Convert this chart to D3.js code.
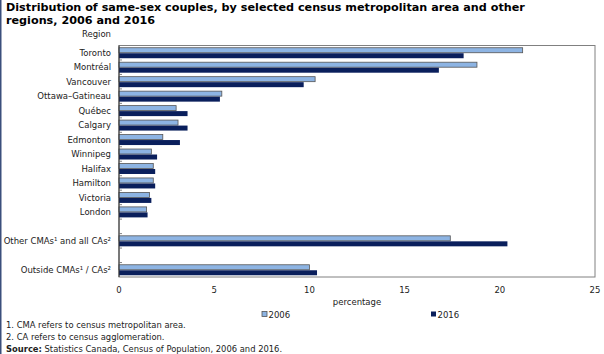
<!DOCTYPE html>
<html>
<head>
<meta charset="utf-8">
<script src="https://cdn.jsdelivr.net/npm/d3@7"></script>
<style>
  body { margin: 0; background: #fff; }
  svg { font-family: "DejaVu Sans", Verdana, sans-serif; }
</style>
</head>
<body>
<div id="chart"></div>
<script>
// data
const regions = ["Toronto", "Montréal", "Vancouver", "Ottawa–Gatineau", "Québec", "Calgary",
    "Edmonton", "Winnipeg", "Halifax", "Hamilton", "Victoria", "London",
    "Other CMAs¹ and all CAs²", "Outside CMAs¹ / CAs²"];
const values2006 = [21.2, 18.8, 10.3, 5.4, 3.0, 3.1, 2.3, 1.7, 1.8, 1.8, 1.6, 1.45, 17.4, 10.0];
const values2016 = [18.1, 16.8, 9.7, 5.3, 3.6, 3.6, 3.2, 2.0, 1.9, 1.9, 1.7, 1.5, 20.4, 10.4];
const years = ["2006", "2016"];
const xTicks = [0, 5, 10, 15, 20, 25];
const footnotes = ["1. CMA refers to census metropolitan area.", "2. CA refers to census agglomeration."];

const colors = { "2006": "#8db4e3", "2016": "#0a1f5c" };

const width = 604, height = 354;
const plot = { left: 119, right: 595, top: 45.5, bottom: 277 };
const labelSize = "8.5px";

// row slots, with empty rows before the two aggregate groups
const slots = [];
regions.forEach((r, i) => {
    if (i >= 12) slots.push("__gap" + i);
    slots.push(r);
});

const data = regions.map((r, i) => ({ region: r, "2006": values2006[i], "2016": values2016[i] }));

const svg = d3.select("#chart").append("svg")
    .attr("width", width)
    .attr("height", height);

// left edge rule of the frame
svg.append("line")
    .attr("x1", 0.75).attr("x2", 0.75)
    .attr("y1", 0).attr("y2", height)
    .attr("stroke", "#3b4f7c").attr("stroke-width", 1.5);

// title
svg.append("text")
    .attr("x", 6).attr("y", 11)
    .attr("font-size", "11.2px").attr("font-weight", "bold").attr("fill", "#000")
    .text("Distribution  of same-sex couples, by selected census metropolitan  area and other");
svg.append("text")
    .attr("x", 6).attr("y", 23.5)
    .attr("font-size", "11.2px").attr("font-weight", "bold").attr("fill", "#000")
    .text("regions, 2006  and 2016");

const x = d3.scaleLinear()
    .domain([0, 25])
    .range([plot.left, plot.right]);

const y = d3.scaleBand()
    .domain(slots)
    .range([plot.top, plot.bottom])
    .paddingInner(0.24)
    .paddingOuter(0.12);

const ySub = d3.scaleBand()
    .domain(years)
    .range([0, y.bandwidth()]);

// plot frame
svg.append("rect")
    .attr("x", plot.left).attr("y", plot.top)
    .attr("width", plot.right - plot.left).attr("height", plot.bottom - plot.top)
    .attr("fill", "none").attr("stroke", "#808080").attr("stroke-width", 1);

// bars
const rows = svg.selectAll(".row")
    .data(data)
    .enter()
    .append("g")
    .attr("class", "row")
    .attr("transform", d => `translate(0,${y(d.region)})`);

rows.selectAll("rect")
    .data(d => years.map(k => ({ key: k, value: d[k] })))
    .enter()
    .append("rect")
    .attr("x", x(0))
    .attr("y", d => ySub(d.key) + 0.5)
    .attr("width", d => x(d.value) - x(0))
    .attr("height", ySub.bandwidth() - 0.5)
    .attr("fill", d => colors[d.key])
    .attr("stroke", d => d.key === "2006" ? "#555" : "none")
    .attr("stroke-width", 0.8);

// left axis line with small inner ticks at row boundaries
svg.append("line")
    .attr("x1", plot.left).attr("x2", plot.left)
    .attr("y1", plot.top).attr("y2", plot.bottom)
    .attr("stroke", "#333").attr("stroke-width", 1);

const step = y.step();
svg.selectAll(".ytick")
    .data(d3.range(1, slots.length))
    .enter()
    .append("line")
    .attr("x1", plot.left).attr("x2", plot.left + 3)
    .attr("y1", i => plot.top + i * step)
    .attr("y2", i => plot.top + i * step)
    .attr("stroke", "#666").attr("stroke-width", 0.8);

// category labels
svg.selectAll(".ylabel")
    .data(regions)
    .enter()
    .append("text")
    .attr("x", 111)
    .attr("y", d => y(d) + y.bandwidth() / 2 + 3.1)
    .attr("text-anchor", "end")
    .attr("font-size", labelSize)
    .attr("fill", "#222")
    .text(d => d);

svg.append("text")
    .attr("x", 111).attr("y", 37)
    .attr("text-anchor", "end")
    .attr("font-size", labelSize).attr("fill", "#222")
    .text("Region");

// x tick labels
svg.selectAll(".xlabel")
    .data(xTicks)
    .enter()
    .append("text")
    .attr("x", d => x(d))
    .attr("y", 293)
    .attr("text-anchor", "middle")
    .attr("font-size", labelSize)
    .attr("fill", "#222")
    .text(d => d);

svg.append("text")
    .attr("x", (plot.left + plot.right) / 2).attr("y", 305)
    .attr("text-anchor", "middle")
    .attr("font-size", labelSize).attr("fill", "#222")
    .text("percentage");

// legend
const legendX = { "2006": 262, "2016": 431 };
years.forEach(k => {
    svg.append("rect")
        .attr("x", legendX[k]).attr("y", 311.5)
        .attr("width", 5).attr("height", 5)
        .attr("fill", colors[k])
        .attr("stroke", k === "2006" ? "#555" : "none")
        .attr("stroke-width", 0.8);
    svg.append("text")
        .attr("x", legendX[k] + 6.5).attr("y", 317.5)
        .attr("font-size", labelSize).attr("fill", "#222")
        .text(k);
});

// footnotes
footnotes.forEach((t, i) => {
    svg.append("text")
        .attr("x", 6).attr("y", 327.5 + i * 12)
        .attr("font-size", "8.4px").attr("fill", "#222")
        .text(t);
});
const src = svg.append("text")
    .attr("x", 6).attr("y", 351.5)
    .attr("font-size", "8.4px").attr("fill", "#222");
src.append("tspan").attr("font-weight", "bold").text("Source:");
src.append("tspan").text(" Statistics Canada, Census of Population, 2006 and 2016.");
</script>
</body>
</html>
